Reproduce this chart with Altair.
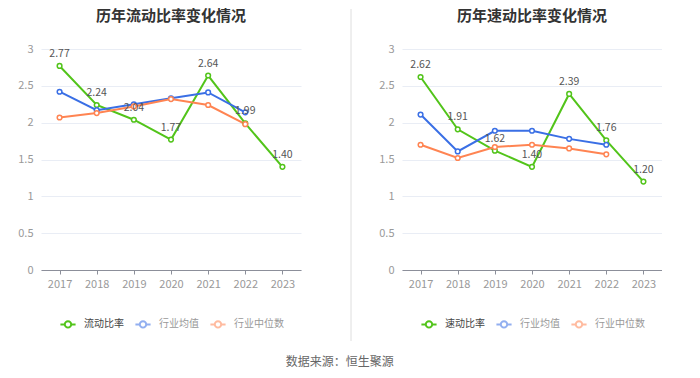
import altair as alt
import pandas as pd

years = ["2017", "2018", "2019", "2020", "2021", "2022", "2023"]

current_ratio = [2.77, 2.24, 2.04, 1.77, 2.64, 1.99, 1.40]
current_ind_mean = [2.42, 2.17, 2.25, 2.33, 2.41, 2.14, None]
current_ind_median = [2.07, 2.13, 2.22, 2.32, 2.24, 1.98, None]

quick_ratio = [2.62, 1.91, 1.62, 1.40, 2.39, 1.76, 1.20]
quick_ind_mean = [2.11, 1.61, 1.89, 1.89, 1.78, 1.70, None]
quick_ind_median = [1.70, 1.52, 1.67, 1.70, 1.65, 1.57, None]

y_ticks = [0, 0.5, 1, 1.5, 2, 2.5, 3]

GREEN = "#52c41a"
BLUE = "#3a6fe5"
ORANGE = "#ff8452"
FONT = "Noto Sans CJK SC"

LEGEND_PATH = ("M-1,0L-0.42,0M0.42,0L1,0"
               "M0.42,0A0.42,0.42,0,1,1,-0.42,0A0.42,0.42,0,1,1,0.42,0")


def panel(title, name, main, mean, median, separator=False):
    rows = []
    for s, vals in [(name, main), ("行业均值", mean), ("行业中位数", median)]:
        for y, v in zip(years, vals):
            if v is not None:
                rows.append({"year": y, "value": v, "series": s})
    df = pd.DataFrame(rows)
    domain = [name, "行业均值", "行业中位数"]
    color = alt.Color(
        "series:N",
        scale=alt.Scale(domain=domain, range=[GREEN, BLUE, ORANGE]),
        legend=alt.Legend(
            title=None, orient="none", direction="horizontal",
            legendX=18, legendY=266,
            symbolType=LEGEND_PATH, symbolSize=230, symbolStrokeWidth=2,
            symbolFillColor="transparent",
            symbolOpacity=alt.ExprRef(expr=f"datum.value == '{name}' ? 1 : 0.55"),
            labelColor=alt.ExprRef(expr=f"datum.value == '{name}' ? '#444' : '#999'"),
            labelFontSize=10, labelFont=FONT, labelOffset=7,
            columnPadding=7,
        ),
        sort=domain,
    )
    x = alt.X("year:O", title=None, sort=years,
              axis=alt.Axis(labelAngle=0, labelColor="#999", labelFontSize=11,
                            labelFont=FONT, domainColor="#8c8f9a", tickColor="#8c8f9a",
                            tickSize=4, labelPadding=4, grid=False))
    y = alt.Y("value:Q", title=None,
              scale=alt.Scale(domain=[0, 3], nice=False),
              axis=alt.Axis(values=y_ticks, format="~g", labelColor="#999",
                            labelFontSize=11, labelFont=FONT, domain=False,
                            ticks=False, gridColor="#e9edf5", labelPadding=8,
                            labelOverlap=False))
    base = alt.Chart(df).encode(x=x, y=y, color=color)
    line = base.mark_line(strokeWidth=2)
    pts = base.mark_point(shape="circle", filled=False, fill="white",
                          fillOpacity=1, strokeWidth=1.5, size=22, opacity=1)
    labels = alt.Chart(df[df["series"] == name]).mark_text(
        dy=-12, fontSize=10.5, color="#555", font=FONT
    ).encode(x=x, y=y, text=alt.Text("value:Q", format=".2f"))
    sep = alt.Chart(df).mark_rule(
        color="#eeeeee", strokeWidth=1, opacity=1 if separator else 0
    ).encode(x=alt.value(310 if separator else 130), y=alt.value(-40), y2=alt.value(292))
    return alt.layer(sep, line, pts, labels).properties(
        width=260, height=221,
        title=alt.TitleParams(title, fontSize=15, fontWeight="bold", color="#333",
                              font=FONT, anchor="middle", offset=-15),
    )


left = panel("历年流动比率变化情况", "流动比率", current_ratio,
             current_ind_mean, current_ind_median, separator=True)
right = panel("历年速动比率变化情况", "速动比率", quick_ratio,
              quick_ind_mean, quick_ind_median)

chart = alt.hconcat(left, right, spacing=26).resolve_scale(color="independent").properties(
    title=alt.TitleParams("数据来源：恒生聚源", orient="bottom", anchor="middle",
                          fontSize=12, fontWeight="normal", color="#666",
                          font=FONT, offset=15),
    padding={"left": 9, "top": 0, "right": 0, "bottom": 0},
).configure_view(stroke=None).configure_concat(spacing=26)

chart.save("out.html", embed_options={"renderer": "svg", "actions": False})
